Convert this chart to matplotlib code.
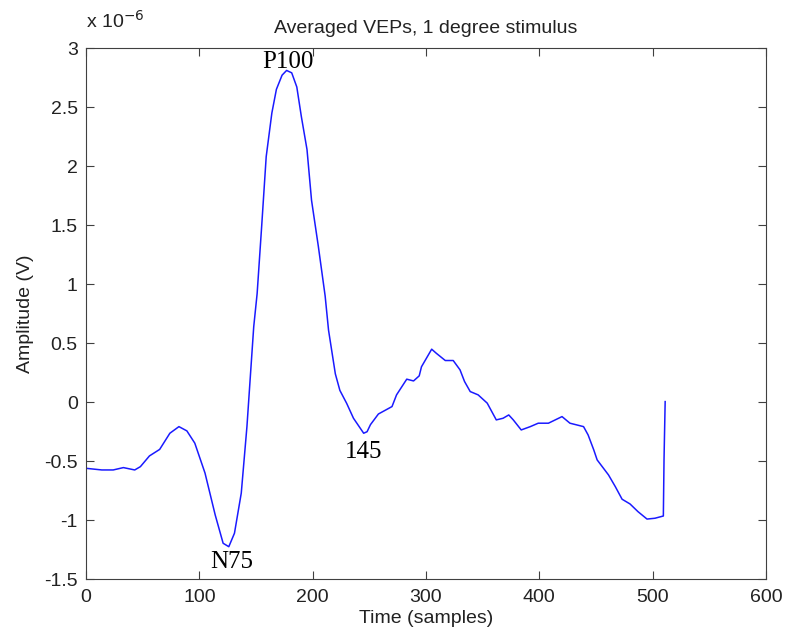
import matplotlib
matplotlib.use('Agg')
from matplotlib import pyplot as plt
from matplotlib.ticker import FuncFormatter, MultipleLocator

plt.rcParams['font.family'] = ['Liberation Sans', 'DejaVu Sans']
plt.rcParams['axes.unicode_minus'] = False

# samples and averaged amplitude (in units of 1e-6 V)
samples = [0, 14, 24, 33, 43, 48, 56, 65, 74, 82, 89, 96, 105, 114, 121, 126,
           131, 137, 142, 145, 148, 151, 155, 159, 164, 168, 173, 177, 181.5,
           186, 190, 195, 199, 205, 211, 214, 220, 224, 230, 236, 245, 248,
           251, 258, 270, 274, 283, 289, 294, 296, 305, 309, 317, 324, 330,
           334, 339, 346, 354, 362, 368, 373, 377, 384, 392, 399, 408, 420,
           427, 439, 443, 448, 451, 461, 467, 473, 480, 487, 495, 502, 509.4,
           510, 511]
amplitude = [-0.56, -0.574, -0.574, -0.554, -0.574, -0.546, -0.455, -0.40,
             -0.263, -0.207, -0.243, -0.347, -0.60, -0.955, -1.195, -1.224,
             -1.11, -0.77, -0.207, 0.217, 0.64, 0.92, 1.49, 2.08, 2.45, 2.65,
             2.77, 2.81, 2.79, 2.67, 2.42, 2.14, 1.71, 1.32, 0.90, 0.61, 0.24,
             0.10, -0.01, -0.136, -0.263, -0.25, -0.19, -0.10, -0.037, 0.062,
             0.195, 0.18, 0.223, 0.30, 0.449, 0.415, 0.353, 0.353, 0.274,
             0.175, 0.09, 0.062, -0.008, -0.15, -0.136, -0.108, -0.15, -0.235,
             -0.207, -0.178, -0.178, -0.122, -0.178, -0.207, -0.277, -0.404,
             -0.489, -0.616, -0.715, -0.822, -0.862, -0.927, -0.99, -0.983,
             -0.964, -0.483, 0.005]

peak_names = ['P100', 'N75', '145']
peak_x = [178, 129, 245]
peak_y = [2.88, -1.35, -0.42]

fig = plt.figure(figsize=(7.86, 6.42), dpi=100)
ax = fig.add_axes([0.1094, 0.0977, 0.8652, 0.8275])

ax.plot(samples, amplitude, color='#1a1aff', linewidth=1.1)

for name, px, py in zip(peak_names, peak_x, peak_y):
    ax.text(px, py, name, family='Liberation Serif', fontsize=18,
            ha='center', va='center')

ax.set_xlim(0, 600)
ax.set_ylim(-1.5, 3)
ax.xaxis.set_major_locator(MultipleLocator(100))
ax.yaxis.set_major_locator(MultipleLocator(0.5))
ax.yaxis.set_major_formatter(FuncFormatter(lambda v, p: '%g' % v))

ax.tick_params(direction='in', top=True, right=True, labelsize=14,
               length=6, color='#404040', labelcolor='#222222')
ax.tick_params(axis='x', pad=7)
ax.tick_params(axis='y', pad=6)
for s in ax.spines.values():
    s.set_color('#404040')

ax.text(0, 1.03, r'x 10$^{-6}$', transform=ax.transAxes, fontsize=14,
        ha='left', va='bottom', color='#222222')

ax.set_title('Averaged VEPs, 1 degree stimulus', fontsize=14, pad=11,
             color='#222222')
ax.set_xlabel('Time (samples)', fontsize=14, labelpad=3, color='#222222')
ax.set_ylabel('Amplitude (V)', fontsize=14, labelpad=7, color='#222222')

fig.savefig('out.png', dpi=100)
